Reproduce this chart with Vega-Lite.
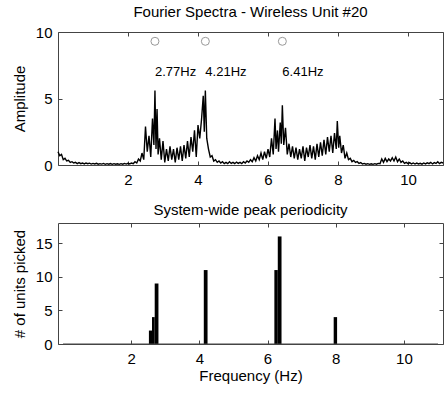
{
  "$schema": "https://vega.github.io/schema/vega-lite/v6.json",
  "background": "white",
  "padding": {"left": 11, "top": 4, "right": 1, "bottom": 0},
  "config": {
    "font": "Liberation Sans",
    "view": {"stroke": "#444", "strokeWidth": 1},
    "title": {"fontSize": 15, "fontWeight": "normal", "color": "black", "offset": 5},
    "axis": {"labelFontSize": 15, "titleFontSize": 15, "titleFontWeight": "normal", "labelColor": "black", "titleColor": "black", "grid": false, "domain": false, "tickColor": "#444", "tickSize": -4, "labelFlush": false, "labelOverlap": false},
    "concat": {"spacing": 14}
  },
  "datasets": {
    "spectrum": [
      {"f":0.00,"a":1.0},{"f":0.05,"a":0.7},{"f":0.10,"a":0.8},{"f":0.15,"a":0.4},{"f":0.20,"a":0.5},{"f":0.25,"a":0.3},{"f":0.30,"a":0.35},{"f":0.35,"a":0.2},{"f":0.40,"a":0.25},{"f":0.45,"a":0.15},
      {"f":0.50,"a":0.2},{"f":0.55,"a":0.1},{"f":0.60,"a":0.18},{"f":0.65,"a":0.1},{"f":0.70,"a":0.15},{"f":0.75,"a":0.08},{"f":0.80,"a":0.15},{"f":0.85,"a":0.1},{"f":0.90,"a":0.14},{"f":0.95,"a":0.07},
      {"f":1.00,"a":0.12},{"f":1.05,"a":0.08},{"f":1.10,"a":0.13},{"f":1.15,"a":0.06},{"f":1.20,"a":0.1},{"f":1.25,"a":0.07},{"f":1.30,"a":0.12},{"f":1.35,"a":0.05},{"f":1.40,"a":0.1},{"f":1.45,"a":0.06},
      {"f":1.50,"a":0.11},{"f":1.55,"a":0.05},{"f":1.60,"a":0.1},{"f":1.65,"a":0.06},{"f":1.70,"a":0.09},{"f":1.75,"a":0.05},{"f":1.80,"a":0.1},{"f":1.85,"a":0.06},{"f":1.90,"a":0.12},{"f":1.95,"a":0.07},
      {"f":2.00,"a":0.13},{"f":2.05,"a":0.08},{"f":2.10,"a":0.15},{"f":2.15,"a":0.1},{"f":2.20,"a":0.25},{"f":2.25,"a":0.15},{"f":2.30,"a":0.45},{"f":2.35,"a":0.3},{"f":2.40,"a":0.9},{"f":2.45,"a":0.4},
      {"f":2.50,"a":2.9},{"f":2.55,"a":1.0},{"f":2.60,"a":2.2},{"f":2.65,"a":0.6},{"f":2.70,"a":3.5},{"f":2.74,"a":1.5},{"f":2.77,"a":5.6},{"f":2.80,"a":1.2},{"f":2.83,"a":4.2},{"f":2.86,"a":0.8},
      {"f":2.90,"a":2.0},{"f":2.95,"a":0.4},{"f":3.00,"a":1.8},{"f":3.05,"a":0.2},{"f":3.10,"a":1.2},{"f":3.15,"a":0.3},{"f":3.20,"a":1.4},{"f":3.25,"a":0.4},{"f":3.30,"a":1.2},{"f":3.35,"a":0.2},
      {"f":3.40,"a":1.3},{"f":3.45,"a":0.4},{"f":3.50,"a":1.4},{"f":3.55,"a":0.3},{"f":3.60,"a":1.5},{"f":3.65,"a":0.5},{"f":3.70,"a":1.8},{"f":3.75,"a":0.6},{"f":3.80,"a":2.1},{"f":3.85,"a":1.0},
      {"f":3.90,"a":2.6},{"f":3.95,"a":0.6},{"f":4.00,"a":3.0},{"f":4.05,"a":2.0},{"f":4.10,"a":3.4},{"f":4.15,"a":5.2},{"f":4.18,"a":2.5},{"f":4.21,"a":5.6},{"f":4.25,"a":2.0},{"f":4.30,"a":1.2},
      {"f":4.35,"a":0.6},{"f":4.40,"a":0.7},{"f":4.45,"a":0.3},{"f":4.50,"a":0.4},{"f":4.55,"a":0.2},{"f":4.60,"a":0.3},{"f":4.65,"a":0.15},{"f":4.70,"a":0.25},{"f":4.75,"a":0.1},{"f":4.80,"a":0.2},
      {"f":4.85,"a":0.1},{"f":4.90,"a":0.25},{"f":4.95,"a":0.12},{"f":5.00,"a":0.2},{"f":5.05,"a":0.1},{"f":5.10,"a":0.22},{"f":5.15,"a":0.12},{"f":5.20,"a":0.2},{"f":5.25,"a":0.1},{"f":5.30,"a":0.25},
      {"f":5.35,"a":0.15},{"f":5.40,"a":0.3},{"f":5.45,"a":0.2},{"f":5.50,"a":0.4},{"f":5.55,"a":0.25},{"f":5.60,"a":0.55},{"f":5.65,"a":0.3},{"f":5.70,"a":0.7},{"f":5.75,"a":0.4},{"f":5.80,"a":0.9},
      {"f":5.85,"a":0.4},{"f":5.90,"a":1.0},{"f":5.95,"a":0.5},{"f":6.00,"a":1.2},{"f":6.05,"a":0.6},{"f":6.10,"a":2.0},{"f":6.15,"a":0.8},{"f":6.20,"a":3.5},{"f":6.23,"a":1.2},{"f":6.27,"a":2.6},
      {"f":6.30,"a":1.0},{"f":6.35,"a":3.2},{"f":6.38,"a":1.6},{"f":6.41,"a":4.5},{"f":6.45,"a":1.5},{"f":6.50,"a":2.8},{"f":6.55,"a":0.8},{"f":6.60,"a":1.6},{"f":6.65,"a":0.6},{"f":6.70,"a":1.4},
      {"f":6.75,"a":0.5},{"f":6.80,"a":1.3},{"f":6.85,"a":0.4},{"f":6.90,"a":1.2},{"f":6.95,"a":0.5},{"f":7.00,"a":1.4},{"f":7.05,"a":0.3},{"f":7.10,"a":1.3},{"f":7.15,"a":0.6},{"f":7.20,"a":1.5},
      {"f":7.25,"a":0.5},{"f":7.30,"a":1.4},{"f":7.35,"a":0.4},{"f":7.40,"a":1.6},{"f":7.45,"a":0.6},{"f":7.50,"a":1.7},{"f":7.55,"a":0.7},{"f":7.60,"a":1.9},{"f":7.65,"a":0.8},{"f":7.70,"a":2.1},
      {"f":7.75,"a":1.0},{"f":7.80,"a":2.2},{"f":7.85,"a":0.9},{"f":7.90,"a":2.4},{"f":7.95,"a":1.2},{"f":7.98,"a":3.3},{"f":8.02,"a":1.3},{"f":8.05,"a":2.2},{"f":8.10,"a":0.9},{"f":8.15,"a":1.5},
      {"f":8.20,"a":0.5},{"f":8.25,"a":0.9},{"f":8.30,"a":0.4},{"f":8.35,"a":0.5},{"f":8.40,"a":0.25},{"f":8.45,"a":0.35},{"f":8.50,"a":0.2},{"f":8.55,"a":0.25},{"f":8.60,"a":0.12},{"f":8.65,"a":0.18},
      {"f":8.70,"a":0.08},{"f":8.75,"a":0.12},{"f":8.80,"a":0.06},{"f":8.85,"a":0.1},{"f":8.90,"a":0.05},{"f":8.95,"a":0.09},{"f":9.00,"a":0.05},{"f":9.05,"a":0.1},{"f":9.10,"a":0.06},{"f":9.15,"a":0.12},
      {"f":9.20,"a":0.1},{"f":9.25,"a":0.45},{"f":9.30,"a":0.2},{"f":9.35,"a":0.5},{"f":9.40,"a":0.25},{"f":9.45,"a":0.45},{"f":9.50,"a":0.3},{"f":9.55,"a":0.55},{"f":9.60,"a":0.3},{"f":9.65,"a":0.6},
      {"f":9.70,"a":0.25},{"f":9.75,"a":0.45},{"f":9.80,"a":0.2},{"f":9.85,"a":0.3},{"f":9.90,"a":0.12},{"f":9.95,"a":0.2},{"f":10.00,"a":0.1},{"f":10.05,"a":0.18},{"f":10.10,"a":0.08},{"f":10.15,"a":0.15},
      {"f":10.20,"a":0.07},{"f":10.25,"a":0.14},{"f":10.30,"a":0.08},{"f":10.35,"a":0.13},{"f":10.40,"a":0.06},{"f":10.45,"a":0.15},{"f":10.50,"a":0.08},{"f":10.55,"a":0.16},{"f":10.60,"a":0.1},{"f":10.65,"a":0.2},
      {"f":10.70,"a":0.08},{"f":10.75,"a":0.18},{"f":10.80,"a":0.12},{"f":10.85,"a":0.25},{"f":10.90,"a":0.1},{"f":10.95,"a":0.2},{"f":11.00,"a":0.15}
    ],
    "peaks": [
      {"f": 2.77, "label": "2.77Hz"},
      {"f": 4.21, "label": "4.21Hz"},
      {"f": 6.41, "label": "6.41Hz"}
    ],
    "picks": [
      {"f0": 2.52, "f1": 2.61, "n": 2},
      {"f0": 2.61, "f1": 2.69, "n": 4},
      {"f0": 2.69, "f1": 2.8, "n": 9},
      {"f0": 4.13, "f1": 4.24, "n": 11},
      {"f0": 6.2, "f1": 6.3, "n": 11},
      {"f0": 6.3, "f1": 6.41, "n": 16},
      {"f0": 7.94, "f1": 8.04, "n": 4}
    ]
  },
  "vconcat": [
    {
      "width": 385,
      "height": 133,
      "title": "Fourier Spectra - Wireless Unit #20",
      "layer": [
        {
          "data": {"name": "spectrum"},
          "mark": {"type": "line", "color": "black", "strokeWidth": 1.4, "interpolate": "linear"},
          "encoding": {
            "x": {"field": "f", "type": "quantitative", "scale": {"domain": [0, 11], "nice": false, "zero": false},
                  "axis": {"orient": "bottom", "values": [2, 4, 6, 8, 10], "title": null, "labelPadding": 11}},
            "y": {"field": "a", "type": "quantitative", "scale": {"domain": [0, 10], "nice": false},
                  "axis": {"orient": "left", "values": [0, 5, 10], "title": "Amplitude", "labelPadding": 10, "titlePadding": 8}}
          }
        },
        {
          "data": {"name": "peaks"},
          "mark": {"type": "point", "shape": "circle", "filled": false, "color": "#999", "size": 64, "strokeWidth": 1, "opacity": 1},
          "encoding": {
            "x": {"field": "f", "type": "quantitative",
                  "axis": {"orient": "top", "values": [2, 4, 6, 8, 10], "labels": false, "title": null}},
            "y": {"datum": 9.3, "type": "quantitative",
                  "axis": {"orient": "right", "values": [0, 5, 10], "labels": false, "title": null}}
          }
        },
        {
          "data": {"name": "peaks"},
          "mark": {"type": "text", "align": "left", "baseline": "middle", "fontSize": 13, "dx": 0, "color": "black"},
          "encoding": {
            "x": {"field": "f", "type": "quantitative", "axis": null},
            "y": {"datum": 7.0, "type": "quantitative", "axis": null},
            "text": {"field": "label"}
          }
        }
      ]
    },
    {
      "width": 385,
      "height": 121,
      "title": "System-wide peak periodicity",
      "layer": [
        {
          "data": {"name": "picks"},
          "mark": {"type": "bar", "color": "black", "orient": "vertical"},
          "encoding": {
            "x": {"field": "f0", "type": "quantitative", "scale": {"domain": [0, 11], "nice": false, "zero": false},
                  "axis": {"orient": "bottom", "values": [2, 4, 6, 8, 10], "title": "Frequency (Hz)", "labelPadding": 11, "titlePadding": 2}},
            "x2": {"field": "f1"},
            "y": {"field": "n", "type": "quantitative", "scale": {"domain": [0, 18], "nice": false},
                  "axis": {"orient": "left", "values": [0, 5, 10, 15], "title": "# of units picked", "labelPadding": 10, "titlePadding": 8}},
            "y2": {"datum": 0}
          }
        },
        {
          "data": {"values": [{}]},
          "mark": {"type": "rule", "color": "#444", "strokeWidth": 1},
          "encoding": {
            "x": {"datum": 0, "type": "quantitative",
                  "axis": {"orient": "top", "values": [2, 4, 6, 8, 10], "labels": false, "title": null}},
            "x2": {"datum": 11},
            "y": {"datum": 0, "type": "quantitative",
                  "axis": {"orient": "right", "values": [0, 5, 10, 15], "labels": false, "title": null}}
          }
        }
      ]
    }
  ]
}
